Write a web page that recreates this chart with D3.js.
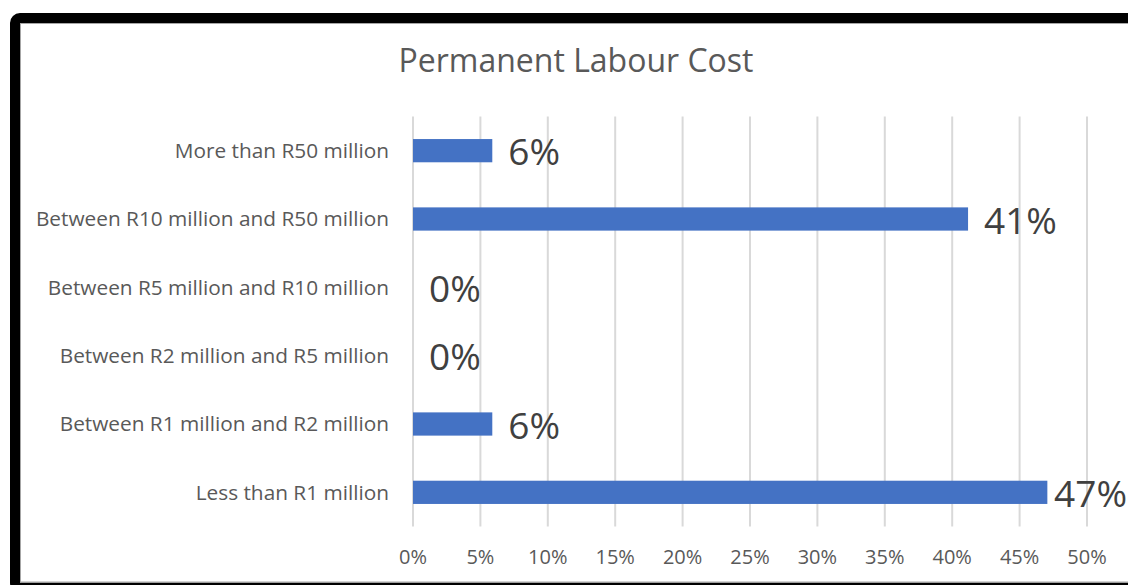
<!DOCTYPE html>
<html><head><meta charset="utf-8">
<script src="https://cdn.jsdelivr.net/npm/d3@7"></script>
<style>body{margin:0;background:#fff}svg{display:block}</style>
</head><body><svg id="c" width="1128" height="585"></svg>
<script>
const categories = ["More than R50 million","Between R10 million and R50 million","Between R5 million and R10 million","Between R2 million and R5 million","Between R1 million and R2 million","Less than R1 million"];
const values = [1/17, 7/17, 0, 0, 1/17, 8/17];
const labels = ["6%","41%","0%","0%","6%","47%"];
const tickValues = [0,0.05,0.1,0.15,0.2,0.25,0.3,0.35,0.4,0.45,0.5];
const title = "Permanent Labour Cost";

const svg = d3.select("#c");
const font = "'Open Sans', 'Segoe UI', sans-serif";
svg.append("rect").attr("width",1128).attr("height",585).attr("fill","#fff");

const x = d3.scaleLinear().domain([0,0.5]).range([413,1087]);
const y = d3.scaleBand().domain(categories).range([116.5,526.5]).paddingInner(0.66).paddingOuter(0.33);

// gridlines
svg.append("g").selectAll("line").data(tickValues).join("line")
  .attr("x1",d=>x(d)).attr("x2",d=>x(d)).attr("y1",116.5).attr("y2",526.5)
  .attr("stroke","#d9d9d9").attr("stroke-width",2);

// x tick labels
svg.append("g").selectAll("text").data(tickValues).join("text")
  .attr("x",d=>x(d)).attr("y",564).attr("text-anchor","middle")
  .attr("font-family",font).attr("font-size",20).attr("fill","#595959")
  .text(d=>d3.format(".0%")(d));

// category labels
svg.append("g").selectAll("text").data(categories).join("text")
  .attr("x",389).attr("y",d=>y(d)+y.bandwidth()/2).attr("dy","0.35em").attr("text-anchor","end")
  .attr("font-family",font).attr("font-size",20.8).attr("fill","#595959")
  .text(d=>d);

// bars
svg.append("g").selectAll("rect").data(values).join("rect")
  .attr("x",x(0)).attr("y",(d,i)=>y(categories[i]))
  .attr("width",d=>x(d)-x(0)).attr("height",y.bandwidth())
  .attr("fill","#4472c4");

// data labels
const dl = svg.append("g").selectAll("text").data(values).join("text")
  .attr("x",d=>x(d)+16).attr("y",(d,i)=>y(categories[i])+y.bandwidth()/2).attr("dy","0.4em")
  .attr("font-family",font).attr("font-size",37).attr("fill","#404040")
  .text((d,i)=>labels[i]);
dl.each(function(d){
  const w = this.getComputedTextLength();
  const xx = Math.min(x(d)+16, 1127 - w);
  d3.select(this).attr("x", xx);
});

// title
svg.append("text").attr("x",576).attr("y",72).attr("text-anchor","middle")
  .attr("font-family",font).attr("font-size",32).attr("fill","#595959").text(title);

// frame
svg.append("rect").attr("x",20.5).attr("y",23.5).attr("width",1200).attr("height",558.5)
  .attr("fill","none").attr("stroke","#a6a6a6").attr("stroke-width",1);
svg.append("rect").attr("x",15).attr("y",18).attr("width",1200).attr("height",569.7).attr("rx",5)
  .attr("fill","none").attr("stroke","#000").attr("stroke-width",10);
</script></body></html>
